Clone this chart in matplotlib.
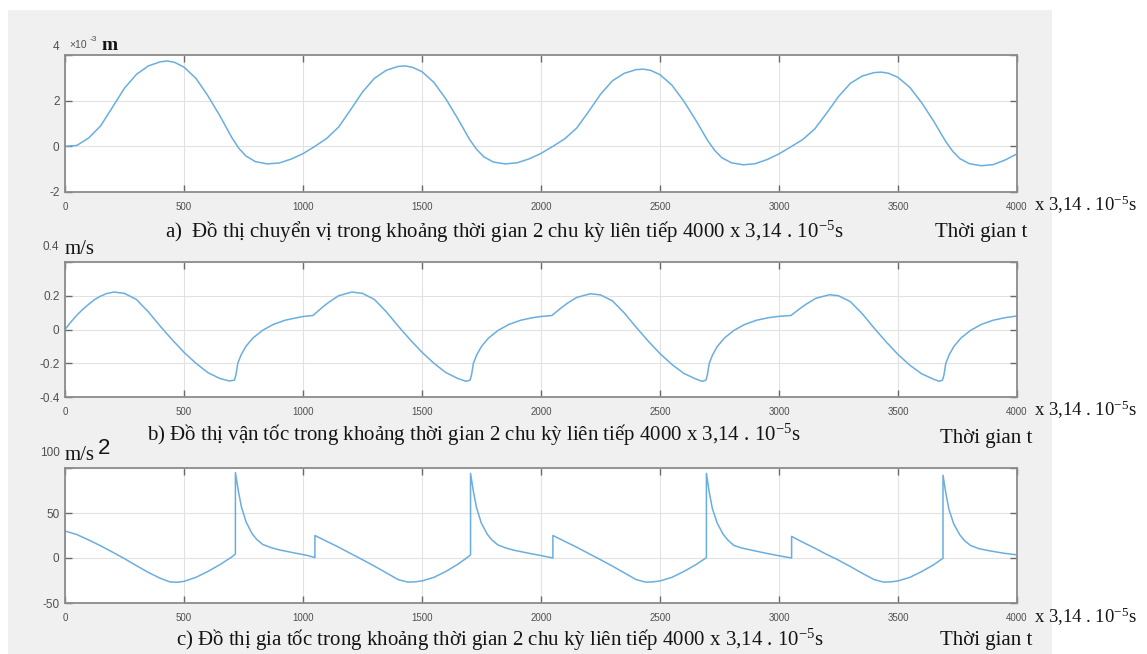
import numpy as np
import matplotlib.pyplot as plt
from matplotlib.patches import Rectangle

plt.rcParams['mathtext.fontset'] = 'custom'
plt.rcParams['mathtext.rm'] = 'Liberation Serif'
plt.rcParams['mathtext.it'] = 'Liberation Serif:italic'
plt.rcParams['font.family'] = ['Liberation Sans', 'DejaVu Sans']

# --- data (time in steps of 3,14e-5 s) ---
# a) displacement, x 1e-3 m
t_disp = [0, 50, 100, 150, 200, 250, 300, 350, 400, 430, 460, 500, 550, 600, 650, 700, 730, 760, 800, 850,
          900, 950, 1000, 1050,
          1100, 1150, 1200, 1250, 1300, 1350, 1400, 1430, 1460, 1500, 1550, 1600, 1650, 1700, 1730, 1760,
          1800, 1850, 1900, 1950, 2000, 2050,
          2100, 2150, 2200, 2250, 2300, 2350, 2400, 2430, 2460, 2500, 2550, 2600, 2650, 2700, 2730, 2760,
          2800, 2850, 2900, 2950, 3000, 3050,
          3100, 3150, 3200, 3250, 3300, 3350, 3400, 3430, 3460, 3500, 3550, 3600, 3650, 3700, 3730, 3760,
          3800, 3850, 3900, 3950, 4000]
disp = [0, 0.04, 0.37, 0.9, 1.72, 2.55, 3.15, 3.52, 3.7, 3.74, 3.68, 3.47, 2.98, 2.22, 1.35, 0.4, -0.08, -0.42,
        -0.67, -0.77, -0.73, -0.56, -0.32, 0.0,
        0.35, 0.85, 1.6, 2.38, 2.98, 3.33, 3.5, 3.52, 3.46, 3.27, 2.8, 2.08, 1.22, 0.3, -0.14, -0.46,
        -0.69, -0.77, -0.72, -0.55, -0.31, 0.0,
        0.33, 0.8, 1.52, 2.28, 2.87, 3.2, 3.36, 3.38, 3.33, 3.14, 2.68, 1.98, 1.15, 0.26, -0.18, -0.5,
        -0.72, -0.81, -0.76, -0.58, -0.33, -0.02,
        0.3, 0.76, 1.45, 2.18, 2.76, 3.08, 3.23, 3.25, 3.2, 3.02, 2.58, 1.9, 1.1, 0.22, -0.22, -0.54,
        -0.76, -0.85, -0.8, -0.6, -0.33]

# b) velocity, m/s
t_vel = [0, 25, 50, 75, 100, 125, 150, 175, 206, 250, 300, 350, 400, 450, 500, 550, 600, 650, 690, 712,
         718, 726, 740, 760, 790, 830, 875, 925, 975, 1000, 1042,
         1060, 1080, 1107, 1150, 1205, 1250, 1300, 1350, 1400, 1450, 1500, 1550, 1600, 1650, 1685, 1702,
         1708, 1716, 1730, 1750, 1780, 1820, 1865, 1915, 1965, 2000, 2046,
         2062, 2082, 2110, 2150, 2208, 2250, 2300, 2350, 2400, 2450, 2500, 2550, 2600, 2650, 2677, 2693,
         2699, 2707, 2721, 2741, 2771, 2811, 2856, 2906, 2956, 3000, 3050,
         3066, 3086, 3114, 3155, 3212, 3250, 3300, 3350, 3400, 3450, 3500, 3550, 3600, 3650, 3673, 3687,
         3693, 3701, 3715, 3735, 3765, 3805, 3850, 3900, 3950, 4000]
vel = [0, 0.045, 0.085, 0.12, 0.15, 0.178, 0.198, 0.213, 0.222, 0.214, 0.178, 0.105, 0.02, -0.06, -0.135,
       -0.2, -0.255, -0.29, -0.305, -0.3,
       -0.27, -0.2, -0.15, -0.1, -0.05, -0.005, 0.03, 0.055, 0.07, 0.077, 0.083,
       0.105, 0.13, 0.16, 0.2, 0.222, 0.214, 0.178, 0.105, 0.02, -0.06, -0.135, -0.2, -0.255, -0.29,
       -0.307, -0.3,
       -0.27, -0.2, -0.15, -0.1, -0.05, -0.005, 0.03, 0.055, 0.07, 0.077, 0.083,
       0.102, 0.125, 0.155, 0.19, 0.212, 0.205, 0.17, 0.098, 0.013, -0.068, -0.143, -0.207, -0.26, -0.293,
       -0.307, -0.3,
       -0.27, -0.2, -0.15, -0.1, -0.05, -0.005, 0.03, 0.055, 0.07, 0.078, 0.083,
       0.1, 0.122, 0.15, 0.185, 0.206, 0.2, 0.165, 0.093, 0.008, -0.073, -0.148, -0.212, -0.263, -0.295,
       -0.307, -0.3,
       -0.27, -0.2, -0.15, -0.1, -0.05, -0.005, 0.03, 0.055, 0.07, 0.08]

# c) acceleration, m/s^2
t_acc = [0, 0, 50, 100, 150, 200, 245, 300, 350, 400, 440, 470, 500, 550, 600, 650, 700, 716,
         716, 728, 741, 761, 786, 806, 831, 866, 901, 966, 1016, 1050,
         1050, 1100, 1150, 1200, 1240, 1300, 1350, 1400, 1440, 1470, 1500, 1550, 1600, 1650, 1690, 1704,
         1704, 1716, 1729, 1749, 1774, 1794, 1819, 1854, 1889, 1954, 2004, 2050,
         2050, 2100, 2150, 2200, 2240, 2300, 2350, 2400, 2440, 2470, 2500, 2550, 2600, 2650, 2690, 2695,
         2695, 2707, 2720, 2740, 2765, 2785, 2810, 2845, 2880, 2947, 3000, 3053,
         3053, 3100, 3150, 3200, 3240, 3300, 3350, 3400, 3440, 3470, 3500, 3550, 3600, 3650, 3685, 3689,
         3689, 3701, 3714, 3734, 3759, 3779, 3804, 3839, 3874, 3939, 4000]
acc = [0, 30, 26, 20, 13.5, 6.5, 0, -8.5, -16, -22.5, -26.5, -27, -26, -21.5, -15, -7.5, 1, 4.5,
       95, 75, 57, 40, 27, 20.5, 15, 11.5, 9, 5.5, 3, 0.5,
       25, 18.5, 12, 5, -0.5, -9, -16.5, -24, -26.8, -26.5, -25.5, -21.5, -15, -7, 0.5, 3.5,
       94, 74, 56, 39, 26.5, 20, 14.5, 11, 8.5, 5, 2.5, 0,
       25, 18.5, 12, 5, -0.5, -9, -16.5, -24, -26.8, -26.5, -25.5, -21.5, -15, -7.5, -0.5, 0.7,
       94, 73, 55, 39, 26.5, 20, 14, 11, 9, 5.2, 2.5, 0,
       24, 17.5, 11, 4, -1, -9.5, -17, -24, -26.8, -26.5, -25.5, -21.5, -15, -7.5, -1, -0.5,
       92, 72, 54, 38, 26, 19.5, 14, 10.5, 8.5, 5.5, 3.5]

x_ticks = [0, 500, 1000, 1500, 2000, 2500, 3000, 3500, 4000]

captions = [
    'a)  Đồ thị chuyển vị trong khoảng thời gian 2 chu kỳ liên tiếp 4000 x 3,14 . 10$^{-5}$s',
    'b) Đồ thị vận tốc trong khoảng thời gian 2 chu kỳ liên tiếp 4000 x 3,14 . 10$^{-5}$s',
    'c) Đồ thị gia tốc trong khoảng thời gian 2 chu kỳ liên tiếp 4000 x 3,14 . 10$^{-5}$s',
]

W, H = 1147, 654
fig = plt.figure(figsize=(W / 100, H / 100), dpi=100, facecolor='white')
fig.patches.append(Rectangle((8 / W, 0), 1044 / W, 644 / H, transform=fig.transFigure,
                             facecolor='#f0f0f0', edgecolor='none', zorder=-10))

LINE = '#6aaee0'
TXT = '#141414'
GRAY = '#505050'
SERIF = 'Liberation Serif'


def px_axes(top, bottom, left=65, right=1017):
    return fig.add_axes([left / W, 1 - bottom / H, (right - left) / W, (bottom - top) / H])


def style(ax, ylim, yticks, top_label, top_off):
    ax.set_xlim(0, 4000)
    ax.set_ylim(*ylim)
    ax.set_xticks(x_ticks)
    ax.set_yticks(yticks)
    ax.set_yticklabels([('%g' % v) for v in yticks[:-1]] + [''])
    ax.grid(True, color='#e2e2e2', lw=0.8)
    ax.set_axisbelow(True)
    ax.tick_params(direction='in', top=True, right=True, length=5, width=1, color='#6a6a6a')
    ax.tick_params(axis='x', labelsize=7, labelcolor=GRAY, pad=7)
    ax.tick_params(axis='y', labelsize=8.5, labelcolor=GRAY, pad=4)
    for s in ax.spines.values():
        s.set_color('#8c8c8c')
        s.set_linewidth(1.3)
    ax.annotate(top_label, xy=(0, 1), xycoords='axes fraction', xytext=(-4, top_off),
                textcoords='offset points', ha='right', va='center', fontsize=8.5, color=GRAY)


ax1 = px_axes(55, 192)
ax1.plot(t_disp, disp, color=LINE, lw=1.1)
style(ax1, (-2, 4), [-2, 0, 2, 4], '4', 6)
ax1.annotate('×10', xy=(0, 1), xycoords='axes fraction', xytext=(3, 7),
             textcoords='offset points', ha='left', va='center', fontsize=7.5, color=GRAY)
ax1.annotate('-3', xy=(0, 1), xycoords='axes fraction', xytext=(18, 11),
             textcoords='offset points', ha='left', va='center', fontsize=6, color=GRAY)
fig.text(102 / W, 1 - 46 / H, 'm', fontsize=14, family=SERIF, weight='bold', color=TXT, va='center')

ax2 = px_axes(262, 397)
ax2.plot(t_vel, vel, color=LINE, lw=1.1)
style(ax2, (-0.4, 0.4), [-0.4, -0.2, 0, 0.2, 0.4], '0.4', 11)
fig.text(65 / W, 1 - 249 / H, 'm/s', fontsize=15, family=SERIF, color=TXT, va='center')

ax3 = px_axes(468, 603)
ax3.plot(t_acc, acc, color=LINE, lw=1.1)
style(ax3, (-50, 100), [-50, 0, 50, 100], '100', 11)
fig.text(65 / W, 1 - 456 / H, 'm/s', fontsize=15, family=SERIF, color=TXT, va='center')
fig.text(98 / W, 1 - 449 / H, '2', fontsize=16, family='Liberation Sans', color=TXT, va='center')

# captions and time labels
cap_y = [232, 435, 640]
cap_x = [165, 147, 176]
unit_y = [205, 410, 617]
tg_x = [935, 940, 940]
tg_y = [233, 438, 640]
for cx, cy, uy, tx, ty, cap in zip(cap_x, cap_y, unit_y, tg_x, tg_y, captions):
    fig.text(cx / W, 1 - cy / H, cap, fontsize=15, family=SERIF, color=TXT, va='center')
    fig.text(1034 / W, 1 - uy / H, 'x 3,14 . 10$^{-5}$s', fontsize=13.5, family=SERIF,
             color=TXT, va='center')
    fig.text(tx / W, 1 - ty / H, 'Thời gian t', fontsize=15, family=SERIF, color=TXT, va='center')

fig.savefig('out.png', dpi=100)
